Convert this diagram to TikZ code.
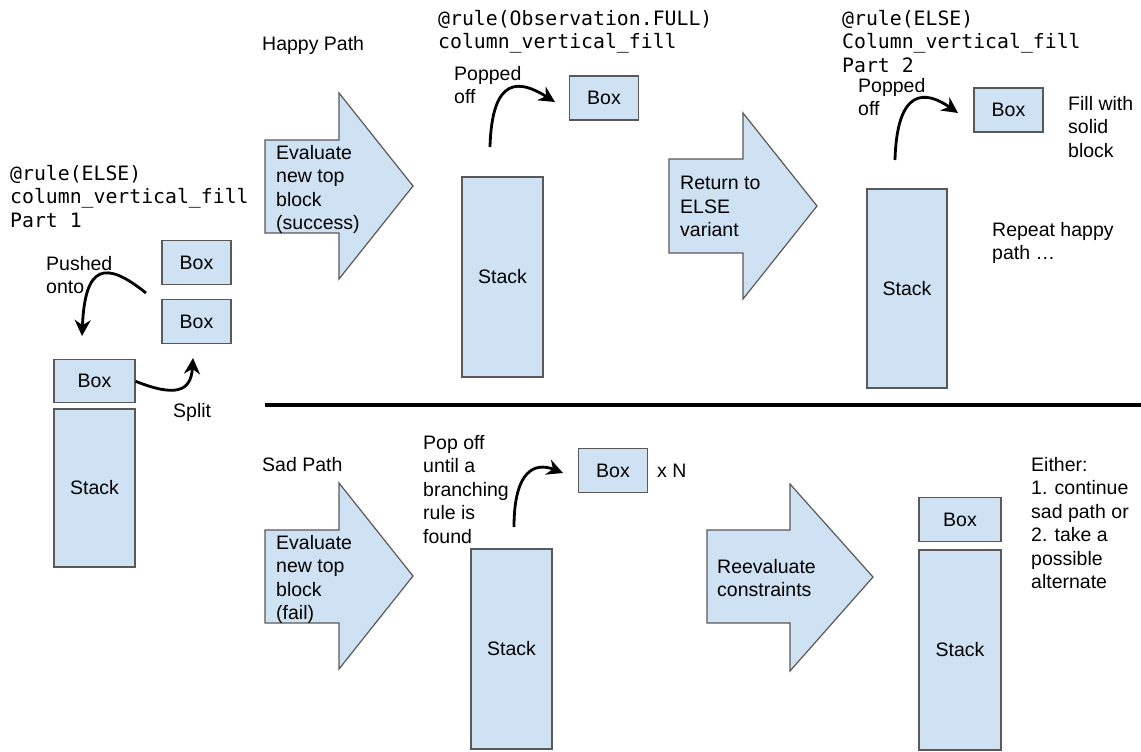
\documentclass[tikz,border=0pt]{standalone}
\usepackage{fontspec}
\setmainfont{Liberation Sans}
\setmonofont{DejaVu Sans Mono}
\usetikzlibrary{arrows.meta, positioning}

\definecolor{stackblue}{HTML}{CFE2F3}
\definecolor{edgegray}{HTML}{595959}

\begin{document}
\begin{tikzpicture}[
        x=1pt, y=-1pt,
        font=\fontsize{19.5}{23.5}\selectfont,
        box/.style={rectangle, draw=edgegray, fill=stackblue, line width=1.2pt, inner sep=0pt},
        smallbox/.style={box, minimum width=69pt, minimum height=44pt},
        stackbox/.style={box, minimum width=81pt, minimum height=200pt},
        bigarrow/.style={draw=edgegray, fill=stackblue, line width=1.2pt},
        note/.style={anchor=north west, inner sep=0pt, align=left},
        rulenote/.style={note, font=\ttfamily\fontsize{19.8}{23.5}\selectfont},
        hook/.style={-{Stealth[length=16pt, width=16pt]}, line width=2.8pt}
    ]
        \useasboundingbox (0,0) rectangle (1141,752);
        \fill[white] (0,0) rectangle (1141,752);

        % part 1: split and push
        \node[rulenote] (title1) at (10,165) {@rule(ELSE)\\column\_vertical\_fill\\Part 1};
        \node[stackbox, minimum height=158pt] (stack1) at (94.5,488) {Stack};
        \node[box, minimum width=81pt, minimum height=43pt, above=5pt of stack1] (top1) {Box};
        \node[smallbox] (boxA) at (196.5,262.5) {Box};
        \node[smallbox, below=14pt of boxA] (boxB) {Box};
        \node[note] (pushed) at (46,256) {Pushed\\onto};
        \node[note] (split) at (173,403) {Split};
        \coordinate (push-s) at (146,293);
        \coordinate (push-e) at (82,336);
        \coordinate (split-e) at (193,358);
        \draw[hook] (push-s) .. controls (105,260) and (85,265) .. (push-e);
        \draw[hook] (top1.east) .. controls (175,397) and (191,392) .. (split-e);

        % happy path
        \node[note] (happy) at (262,36) {Happy Path};
        \draw[bigarrow] (265,140) -- (339,140) -- (339,93) -- (413,186) -- (339,279) -- (339,233) -- (265,233) -- cycle;
        \node[note] (eval1) at (276,145) {Evaluate\\new top\\block\\(success)};
        \node[rulenote] (title2) at (438,10) {@rule(Observation.FULL)\\column\_vertical\_fill};
        \node[stackbox] (stack2) at (502.5,277) {Stack};
        \node[smallbox] (box2) at (604,98) {Box};
        \node[note] (popped1) at (454,66) {Popped\\off};
        \coordinate (pop1-s) at (490,147);
        \coordinate (pop1-e) at (555,102);
        \draw[hook] (pop1-s) .. controls (492,75) and (520,80) .. (pop1-e);

        \draw[bigarrow] (669,159) -- (743,159) -- (743,113) -- (817,206) -- (743,299) -- (743,253) -- (669,253) -- cycle;
        \node[note] (return) at (680,176) {Return to\\ELSE\\variant};
        \node[rulenote] (title3) at (842,10) {@rule(ELSE)\\Column\_vertical\_fill\\Part 2};
        \node[note] (popped2) at (858,78) {Popped\\off};
        \node[smallbox] (box3) at (1008.5,110) {Box};
        \node[note] (fill) at (1068,96) {Fill with\\solid\\block};
        \node[stackbox, minimum width=80pt, minimum height=199pt] (stack3) at (907,288.5) {Stack};
        \node[note] (repeat) at (992,222) {Repeat happy\\path …};
        \coordinate (pop2-s) at (895,160);
        \coordinate (pop2-e) at (958,113);
        \draw[hook] (pop2-s) .. controls (897,88) and (925,90) .. (pop2-e);

        % divider
        \coordinate (div-l) at (265,405);
        \coordinate (div-r) at (1141,405);
        \draw[line width=3.5pt] (div-l) -- (div-r);

        % sad path
        \node[note] (sad) at (262,457) {Sad Path};
        \draw[bigarrow] (265,530) -- (339,530) -- (339,483) -- (413,576) -- (339,669) -- (339,623) -- (265,623) -- cycle;
        \node[note] (eval2) at (276,535) {Evaluate\\new top\\block\\(fail)};
        \node[note] (popoff) at (423,435) {Pop off\\until a\\branching\\rule is\\found};
        \node[stackbox] (stack4) at (511.5,649) {Stack};
        \node[smallbox] (box4) at (613,470.5) {Box};
        \node[note] (times) at (657,464) {x N};
        \coordinate (pop3-s) at (514,527);
        \coordinate (pop3-e) at (563,473);
        \draw[hook] (pop3-s) .. controls (514,470) and (535,462) .. (pop3-e);

        \draw[bigarrow] (707,530) -- (790,530) -- (790,484) -- (873,577) -- (790,671) -- (790,623) -- (707,623) -- cycle;
        \node[note] (reeval) at (717,559) {Reevaluate\\constraints};
        \node[stackbox, minimum width=82pt] (stack5) at (960,650) {Stack};
        \node[box, minimum width=82pt, minimum height=44pt, above=7pt of stack5] (top5) {Box};
        \node[note] (either) at (1031,457) {Either:\\1. continue\\sad path or\\2. take a\\possible\\alternate};
    \end{tikzpicture}
\end{document}
